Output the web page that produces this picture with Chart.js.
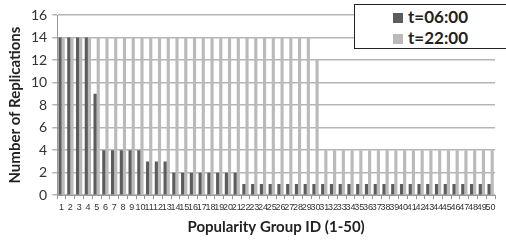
<!DOCTYPE html>
<html>
<head>
<meta charset="utf-8">
<script src="https://cdn.jsdelivr.net/npm/chart.js@4.4.1/dist/chart.umd.min.js"></script>
<style>
    body { margin: 0; background: #fff; }
    #wrap { position: relative; width: 506px; height: 242px; }
    #legend {
        position: absolute; left: 354px; top: 4px; width: 160px; height: 45px;
        border: 1.5px solid #222; background: #fff; box-sizing: border-box;
        font-family: Lato, sans-serif; font-weight: bold; font-size: 17px; color: #222;
    }
    .item { position: absolute; left: 38px; line-height: 20px; }
    .item span { display: inline-block; width: 10px; height: 10px; margin-right: 5px; vertical-align: 0px; }
</style>
</head>
<body>
<div id="wrap">
    <canvas id="grafico" width="506" height="242"></canvas>
    <div id="legend"></div>
</div>
<script>
const grupos = [];
for (let i = 1; i <= 50; i++) grupos.push(String(i));

const seriesNomes = ['t=06:00', 't=22:00'];

const manha = [
    14, 14, 14, 14, 9, 4, 4, 4, 4, 4,
    3, 3, 3, 2, 2, 2, 2, 2, 2, 2,
    2, 1, 1, 1, 1, 1, 1, 1, 1, 1,
    1, 1, 1, 1, 1, 1, 1, 1, 1, 1,
    1, 1, 1, 1, 1, 1, 1, 1, 1, 1
];

const noite = [
    14, 14, 14, 14, 14, 14, 14, 14, 14, 14,
    14, 14, 14, 14, 14, 14, 14, 14, 14, 14,
    14, 14, 14, 14, 14, 14, 14, 14, 14, 12,
    4, 4, 4, 4, 4, 4, 4, 4, 4, 4,
    4, 4, 4, 4, 4, 4, 4, 4, 4, 4
];

const yTicks = [0, 2, 4, 6, 8, 10, 12, 14, 16];

const cores = ['#5c5c5c', '#bababa'];

const dataBar = {
    labels: grupos,
    datasets: [{
        label: seriesNomes[0],
        data: manha,
        backgroundColor: cores[0],
        categoryPercentage: 0.72,
        barPercentage: 1
    },
    {
        label: seriesNomes[1],
        data: noite,
        backgroundColor: cores[1],
        categoryPercentage: 0.72,
        barPercentage: 1
    }]
};

const configBar = {
    type: 'bar',
    data: dataBar,
    options: {
        responsive: false,
        animation: false,
        layout: { padding: { top: 15, right: 11, left: 6, bottom: 6 } },
        plugins: {
            legend: { display: false },
            tooltip: { enabled: false }
        },
        scales: {
            x: {
                grid: { drawOnChartArea: false, color: '#999', tickLength: 4 },
                border: { color: '#999' },
                ticks: {
                    autoSkip: false, maxRotation: 0, minRotation: 0, padding: 3,
                    color: '#333', font: { family: 'Liberation Sans Narrow, Liberation Sans', size: 9 }
                },
                title: {
                    display: true, text: 'Popularity Group ID (1-50)', color: '#222',
                    font: { family: 'Lato', weight: 'bold', size: 15 }, padding: { top: 2, bottom: 0 }
                }
            },
            y: {
                min: 0, max: 16,
                afterBuildTicks: axis => { axis.ticks = yTicks.map(v => ({ value: v })); },
                grid: { color: '#b5b5b5', lineWidth: 1.5, tickLength: 5 },
                border: { color: '#999' },
                ticks: { color: '#333', font: { family: 'Lato', size: 14 }, padding: 5 },
                title: {
                    display: true, text: 'Number of Replications', color: '#222',
                    font: { family: 'Lato', weight: 'bold', size: 15 }, padding: { top: 0, bottom: 2 }
                }
            }
        }
    }
};

const myChartBars = new Chart(document.getElementById('grafico'), configBar);

// legenda em HTML
const legenda = document.getElementById('legend');
seriesNomes.forEach((nome, i) => {
    const d = document.createElement('div');
    d.className = 'item';
    d.style.top = (2 + i * 21) + 'px';
    d.innerHTML = '<span style="background:' + cores[i] + '"></span>' + nome;
    legenda.appendChild(d);
});
</script>
</body>
</html>
